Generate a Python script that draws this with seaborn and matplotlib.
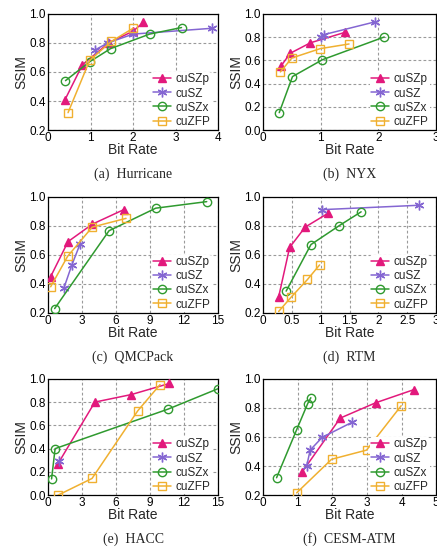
import matplotlib
matplotlib.use("Agg")
import matplotlib.pyplot as plt
import seaborn as sns
import numpy as np

# ---- data ----
methods = ["cuSZp", "cuSZ", "cuSZx", "cuZFP"]
colors = {"cuSZp": "#e2197c", "cuSZ": "#8466d2", "cuSZx": "#2f9a2f", "cuZFP": "#f0b030"}

hur_x = {"cuSZp": [0.4, 0.81, 1.43, 2.0, 2.24], "cuSZ": [1.1, 1.41, 2.0, 3.86],
         "cuSZx": [0.41, 0.98, 1.47, 2.39, 3.14], "cuZFP": [0.47, 0.98, 1.49, 2.0]}
hur_y = {"cuSZp": [0.41, 0.65, 0.80, 0.88, 0.94], "cuSZ": [0.75, 0.80, 0.86, 0.90],
         "cuSZx": [0.54, 0.67, 0.76, 0.86, 0.905], "cuZFP": [0.32, 0.68, 0.81, 0.90]}

nyx_x = {"cuSZp": [0.31, 0.47, 0.82, 1.42], "cuSZ": [1.01, 1.05, 1.94],
         "cuSZx": [0.28, 0.51, 1.03, 2.1], "cuZFP": [0.30, 0.50, 0.99, 1.49]}
nyx_y = {"cuSZp": [0.55, 0.66, 0.75, 0.84], "cuSZ": [0.80, 0.82, 0.93],
         "cuSZx": [0.15, 0.46, 0.605, 0.80], "cuZFP": [0.50, 0.62, 0.70, 0.74]}

qmc_x = {"cuSZp": [0.23, 1.76, 3.9, 6.68], "cuSZ": [1.39, 2.1, 2.83],
         "cuSZx": [0.58, 5.38, 9.5, 14.0], "cuZFP": [0.23, 1.73, 3.9, 6.88]}
qmc_y = {"cuSZp": [0.45, 0.69, 0.81, 0.91], "cuSZ": [0.37, 0.53, 0.675],
         "cuSZx": [0.23, 0.765, 0.92, 0.965], "cuZFP": [0.38, 0.59, 0.79, 0.85]}

rtm_x = {"cuSZp": [0.27, 0.46, 0.73, 1.13], "cuSZ": [1.03, 2.70],
         "cuSZx": [0.40, 0.83, 1.32, 1.70], "cuZFP": [0.27, 0.49, 0.77, 0.98]}
rtm_y = {"cuSZp": [0.31, 0.65, 0.79, 0.886], "cuSZ": [0.91, 0.94],
         "cuSZx": [0.35, 0.67, 0.80, 0.895], "cuZFP": [0.21, 0.31, 0.43, 0.53]}

hacc_x = {"cuSZp": [0.84, 4.13, 7.36, 10.7], "cuSZ": [0.93],
          "cuSZx": [0.31, 0.62, 10.6, 15.0], "cuZFP": [0.87, 3.88, 7.92, 9.88]}
hacc_y = {"cuSZp": [0.265, 0.80, 0.865, 0.96], "cuSZ": [0.297],
          "cuSZx": [0.14, 0.40, 0.74, 0.915], "cuZFP": [0.0, 0.144, 0.726, 0.95]}

cesm_x = {"cuSZp": [1.13, 2.23, 3.25, 4.35], "cuSZ": [1.26, 1.36, 1.71, 2.56],
          "cuSZx": [0.39, 0.97, 1.29, 1.38], "cuZFP": [0.97, 1.98, 2.99, 3.99]}
cesm_y = {"cuSZp": [0.36, 0.73, 0.835, 0.925], "cuSZ": [0.40, 0.51, 0.598, 0.70],
          "cuSZx": [0.32, 0.65, 0.83, 0.87], "cuZFP": [0.216, 0.447, 0.51, 0.815]}

panels = [
    ("(a)  Hurricane", hur_x, hur_y, (0, 4), [0, 1, 2, 3, 4], (0.2, 1.0)),
    ("(b)  NYX", nyx_x, nyx_y, (0, 3), [0, 1, 2, 3], (0.0, 1.0)),
    ("(c)  QMCPack", qmc_x, qmc_y, (0, 15), [0, 3, 6, 9, 12, 15], (0.2, 1.0)),
    ("(d)  RTM", rtm_x, rtm_y, (0, 3), [0, 0.5, 1, 1.5, 2, 2.5, 3], (0.2, 1.0)),
    ("(e)  HACC", hacc_x, hacc_y, (0, 15), [0, 3, 6, 9, 12, 15], (0.0, 1.0)),
    ("(f)  CESM-ATM", cesm_x, cesm_y, (0, 5), [0, 1, 2, 3, 4, 5], (0.2, 1.0)),
]

sns.set_style("white")
plt.rcParams["font.family"] = ["Liberation Sans", "DejaVu Sans"]

markers = {"cuSZp": "^", "cuSZ": (6, 2, 0), "cuSZx": "o", "cuZFP": "s"}
filled = {"cuSZp": True, "cuSZ": True, "cuSZx": False, "cuZFP": False}

fig = plt.figure(figsize=(4.37, 5.49), dpi=100)

lefts = [0.110, 0.602]
widths = [0.389, 0.396]
bottoms = [0.763, 0.430, 0.098]
height = 0.212

for i, (title, xs, ys, xlim, xt, ylim) in enumerate(panels):
    r, c = i // 2, i % 2
    ax = fig.add_axes([lefts[c], bottoms[r], widths[c], height])
    for m in methods:
        sns.lineplot(x=xs[m], y=ys[m], ax=ax, color=colors[m], marker=markers[m],
                     markersize=6 if m != "cuSZ" else 7,
                     markerfacecolor=colors[m] if filled[m] else "none",
                     markeredgecolor=colors[m], markeredgewidth=1.0,
                     linewidth=1.1, label=m, sort=False, estimator=None, zorder=3)
    ax.set_xlim(*xlim)
    ax.set_ylim(*ylim)
    ax.set_xticks(xt)
    ax.set_xticklabels([f"{t:g}" for t in xt])
    yt = np.arange(ylim[0], 1.0001, 0.2)
    ax.set_yticks(yt)
    ax.set_yticklabels([f"{t:.1f}" for t in yt])
    ax.grid(True, which="major", color="#9a9a9a", linestyle=(0, (2.5, 2)), linewidth=0.8)
    ax.set_axisbelow(True)
    for s in ax.spines.values():
        s.set_color("black")
        s.set_linewidth(0.9)
    ax.tick_params(labelsize=8.5, pad=1.5, length=2, direction="in", colors="black")
    ax.set_xlabel("Bit Rate", fontsize=10, labelpad=-1)
    ax.set_ylabel("SSIM", fontsize=10, labelpad=1)
    leg = ax.legend(loc="lower right", bbox_to_anchor=(0.97, 0.0), fontsize=8.5,
                    frameon=True, framealpha=1, edgecolor="white",
                    handlelength=1.5, handletextpad=0.4,
                    labelspacing=0.18, borderaxespad=0.1, borderpad=0.1)
    leg.get_frame().set_linewidth(0)
    ax.text(0.5, -0.38, title, transform=ax.transAxes, ha="center", va="center",
            fontsize=10, family=["Liberation Serif", "DejaVu Serif"])

fig.savefig("out.png", dpi=100)
